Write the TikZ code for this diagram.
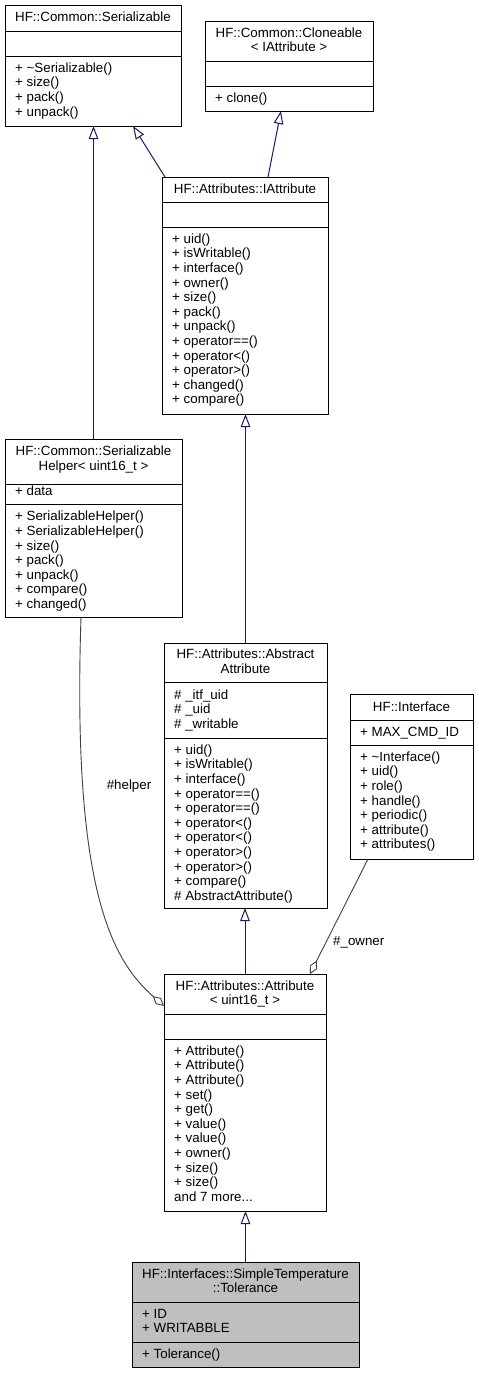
\documentclass[tikz,border=0pt]{standalone}
\usepackage{fontspec}
\setmainfont{Liberation Sans}
\usetikzlibrary{arrows.meta,calc}
\definecolor{navy}{HTML}{191970}
\definecolor{aggray}{HTML}{404040}
\definecolor{tolgray}{HTML}{BFBFBF}
\newcommand\cf{\fontsize{13.33}{14.6}\selectfont}
\newcommand\mlines[1]{\vtop{\baselineskip=14.6pt\lineskiplimit=-20pt\halign{##\hfil\cr#1\crcr}}}
\newcommand\clines[1]{\vtop{\baselineskip=14.6pt\lineskiplimit=-20pt\halign{\hfil##\hfil\cr#1\crcr}}}
\tikzset{
  cls/.style={draw=black, line width=1pt, rectangle, inner sep=0pt, outer sep=0pt, fill=white},
  ttl/.style={anchor=base, inner sep=0pt, font=\cf},
  mem/.style={anchor=base west, inner sep=0pt, font=\cf},
  sepl/.style={draw=black, line width=1pt},
  inh/.style={draw=navy, line width=1pt, -{Triangle[open, length=13pt, width=9.5pt]}},
  agg/.style={draw=aggray, line width=0.9pt, -{Diamond[open, length=15pt, width=8pt]}},
  lbl/.style={font=\cf, inner sep=0pt}
}
\begin{document}
\begin{tikzpicture}[x=1pt,y=-1pt]
\useasboundingbox (0,0) rectangle (479,1373);
\fill[white] (0,0) rectangle (479,1373);

% HF::Common::Serializable
\node[cls, minimum width=176pt, minimum height=121pt] (ser) at (93,65.5) {};
\draw[sepl] (ser.west |- 0,31) -- (ser.east |- 0,31);
\draw[sepl] (ser.west |- 0,56) -- (ser.east |- 0,56);
\node[ttl] (ser-t) at (93,21) {HF::Common::Serializable};
\node[mem] (ser-m) at (15,72.3) {\mlines{+ \textasciitilde Serializable()\cr + size()\cr + pack()\cr + unpack()}};

% HF::Common::Cloneable< IAttribute >
\node[cls, minimum width=168pt, minimum height=90pt] (clo) at (289,66) {};
\draw[sepl] (clo.west |- 0,61) -- (clo.east |- 0,61);
\draw[sepl] (clo.west |- 0,86) -- (clo.east |- 0,86);
\node[ttl] (clo-t) at (289,37) {\clines{HF::Common::Cloneable\cr < IAttribute >}};
\node[mem] (clo-m) at (215,102.3) {\mlines{+ clone()}};

% HF::Attributes::IAttribute
\node[cls, minimum width=166pt, minimum height=237pt] (ia) at (245,295.5) {};
\draw[sepl] (ia.west |- 0,202) -- (ia.east |- 0,202);
\draw[sepl] (ia.west |- 0,227) -- (ia.east |- 0,227);
\node[ttl] (ia-t) at (245,193) {HF::Attributes::IAttribute};
\node[mem] (ia-m) at (172,243.3) {\mlines{+ uid()\cr + isWritable()\cr + interface()\cr + owner()\cr + size()\cr + pack()\cr + unpack()\cr + operator==()\cr + operator<()\cr + operator>()\cr + changed()\cr + compare()}};

% HF::Common::SerializableHelper< uint16_t >
\node[cls, minimum width=177pt, minimum height=178pt] (helper) at (93.5,528) {};
\draw[sepl] (helper.west |- 0,484) -- (helper.east |- 0,484);
\draw[sepl] (helper.west |- 0,504) -- (helper.east |- 0,504);
\node[ttl] (helper-t) at (93.5,455.5) {\clines{HF::Common::Serializable\cr Helper< uint16\_t >}};
\node[mem] (helper-a) at (15,495.7) {\mlines{+ data}};
\node[mem] (helper-m) at (15,520.8) {\mlines{+ SerializableHelper()\cr + SerializableHelper()\cr + size()\cr + pack()\cr + unpack()\cr + compare()\cr + changed()}};

% HF::Attributes::AbstractAttribute
\node[cls, minimum width=163pt, minimum height=265pt] (abs) at (245.5,775.5) {};
\draw[sepl] (abs.west |- 0,682.5) -- (abs.east |- 0,682.5);
\draw[sepl] (abs.west |- 0,738) -- (abs.east |- 0,738);
\node[ttl] (abs-t) at (245.5,658.5) {\clines{HF::Attributes::Abstract\cr Attribute}};
\node[mem] (abs-a) at (174,699.3) {\mlines{\# \_itf\_uid\cr \# \_uid\cr \# \_writable}};
\node[mem] (abs-m) at (174,754.3) {\mlines{+ uid()\cr + isWritable()\cr + interface()\cr + operator==()\cr + operator==()\cr + operator<()\cr + operator<()\cr + operator>()\cr + operator>()\cr + compare()\cr \# AbstractAttribute()}};

% HF::Interface
\node[cls, minimum width=123pt, minimum height=165pt] (iface) at (411.5,776.5) {};
\draw[sepl] (iface.west |- 0,720) -- (iface.east |- 0,720);
\draw[sepl] (iface.west |- 0,745) -- (iface.east |- 0,745);
\node[ttl] (iface-t) at (411.5,711) {HF::Interface};
\node[mem] (iface-a) at (360,736.3) {\mlines{+ MAX\_CMD\_ID}};
\node[mem] (iface-m) at (360,761.3) {\mlines{+ \textasciitilde Interface()\cr + uid()\cr + role()\cr + handle()\cr + periodic()\cr + attribute()\cr + attributes()}};

% HF::Attributes::Attribute< uint16_t >
\node[cls, minimum width=162pt, minimum height=237pt] (attr) at (245,1092.5) {};
\draw[sepl] (attr.west |- 0,1014) -- (attr.east |- 0,1014);
\draw[sepl] (attr.west |- 0,1039) -- (attr.east |- 0,1039);
\node[ttl] (attr-t) at (245,990) {\clines{HF::Attributes::Attribute\cr < uint16\_t >}};
\node[mem] (attr-m) at (174,1055.3) {\mlines{+ Attribute()\cr + Attribute()\cr + Attribute()\cr + set()\cr + get()\cr + value()\cr + value()\cr + owner()\cr + size()\cr + size()\cr and 7 more...}};

% HF::Interfaces::SimpleTemperature::Tolerance
\node[cls, fill=tolgray, minimum width=227pt, minimum height=105pt] (tol) at (245.5,1314.5) {};
\draw[sepl] (tol.west |- 0,1302) -- (tol.east |- 0,1302);
\draw[sepl] (tol.west |- 0,1342) -- (tol.east |- 0,1342);
\node[ttl] (tol-t) at (245.5,1278) {\clines{HF::Interfaces::SimpleTemperature\cr ::Tolerance}};
\node[mem] (tol-a) at (142,1318.3) {\mlines{+ ID\cr + WRITABBLE}};
\node[mem] (tol-m) at (142,1358.3) {\mlines{+ Tolerance()}};

% inheritance
\draw[inh] (helper.north) -- (helper.north |- ser.south);
\draw[inh] ($(ia.north west)+(3,0)$) -- ($(ser.south west)+(128,0)$);
\draw[inh] ($(ia.north west)+(106,0)$) -- ($(clo.south west)+(76,0)$);
\draw[inh] (abs.north) -- (abs.north |- ia.south);
\draw[inh] (attr.north) -- (attr.north |- abs.south);
\draw[inh] (tol.north) -- (tol.north |- attr.south);

% aggregation
\draw[agg] ($(helper.south west)+(76,0)$) .. controls (72,890) and (112,960) .. ($(attr.north west)+(0,32)$);
\node[lbl, anchor=base] (lh) at (129,789) {\#helper};
\draw[agg] ($(iface.south west)+(18,0)$) -- ($(attr.north west)+(146,0)$);
\node[lbl, anchor=base west] (lo) at (333,945) {\#\_owner};
\end{tikzpicture}
\end{document}
